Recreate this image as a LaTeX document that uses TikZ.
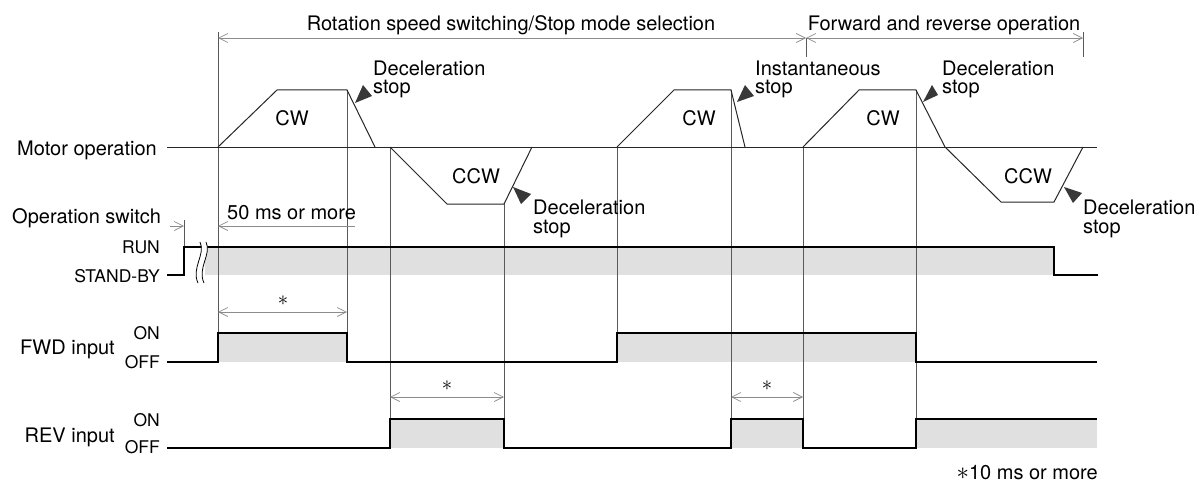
\documentclass[tikz,border=0pt]{standalone}
\usepackage{fontspec}
\setmainfont{TeX Gyre Heros}
\usetikzlibrary{%
  arrows.meta,% open barbs
  calc%
}
\definecolor{tipgray}{gray}{0.22}
\definecolor{guidegray}{gray}{0.35}
\definecolor{dimgray}{gray}{0.55}
\definecolor{shadegray}{gray}{0.88}

\tikzset{
  signal/.style={line width=1.3pt,black},
  profile/.style={line width=1pt,black!85},
  guide/.style={line width=0.7pt,guidegray},
  dimline/.style={line width=0.7pt,dimgray,
    {Straight Barb[length=9pt,width=9pt]}-{Straight Barb[length=9pt,width=9pt]}},
  shade/.style={fill=shadegray,draw=none},
  lbl/.style={inner sep=0pt,font=\fontsize{20}{18.5}\selectfont},
  small/.style={inner sep=0pt,font=\fontsize{17.5}{18}\selectfont},
  star/.style={inner sep=0pt,font=\fontsize{22}{22}\selectfont},
}

\begin{document}
\begin{tikzpicture}[x=1pt,y=-1pt]
\useasboundingbox (0,0) rectangle (1203,487);
\fill[white] (0,0) rectangle (1203,487);

% shaded ON areas
\fill[shade] (205,247) rectangle (1054,275);
\fill[shade] (218,333) rectangle (347,362);
\fill[shade] (617,333) rectangle (916,362);
\fill[shade] (390,419) rectangle (504,448);
\fill[shade] (731,419) rectangle (803,448);
\fill[shade] (916,419) rectangle (1097,448);

% guide lines
\foreach \x/\ya/\yb in {218/32/362, 347/90/362, 390/147/448, 504/204/448,
  617/147/362, 731/90/448, 803/147/448, 916/90/448, 184/220/275,
  806/38/57, 1083/32/57} {
  \draw[guide] (\x,\ya) -- (\x,\yb);
}

% section arrows
\draw[dimline] (218,38) -- (806,38);
\draw[dimline] (806,38) -- (1083,38);
\node[lbl,anchor=base] (tsec1) at (511,31) {Rotation speed switching/Stop mode selection};
\node[lbl,anchor=base] (tsec2) at (944,31) {Forward and reverse operation};

% motor operation
\node[lbl,anchor=base east] (tmotor) at (157,155) {Motor operation};
\draw[profile] (167,147) -- (1097,147);
\draw[profile] (218,147) -- (277,90) -- (347,90) -- (375,147);
\draw[profile] (390,147) -- (447,204) -- (504,204) -- (532,147);
\draw[profile] (617,147) -- (674,90) -- (731,90) -- (745,147);
\draw[profile] (803,147) -- (859,90) -- (916,90) -- (945,147)
  -- (1001,202) -- (1054,202) -- (1083,147);
\node[lbl] (tcw1) at (292,118) {CW};
\node[lbl] (tccw1) at (476,176) {CCW};
\node[lbl] (tcw2) at (699,118) {CW};
\node[lbl] (tcw3) at (883,118) {CW};
\node[lbl] (tccw2) at (1028,176) {CCW};

% stop marks (label anchor = baseline of "stop")
\fill[tipgray] (355,103) -- (363,85) -- (372,96) -- cycle;
\fill[tipgray] (513,187) -- (531,194) -- (521,204) -- cycle;
\fill[tipgray] (737,102) -- (745,85) -- (754,96) -- cycle;
\fill[tipgray] (923,102) -- (932,85) -- (938,95) -- cycle;
\fill[tipgray] (1064,187) -- (1082,193) -- (1073,203) -- cycle;
\node[lbl,anchor=base west,align=left] (tdec1) at (373,94) {Deceleration\\stop};
\node[lbl,anchor=base west,align=left] (tdec2) at (533,233) {Deceleration\\stop};
\node[lbl,anchor=base west,align=left] (tinst) at (755,94) {Instantaneous\\stop};
\node[lbl,anchor=base west,align=left] (tdec3) at (942,94) {Deceleration\\stop};
\node[lbl,anchor=base west,align=left] (tdec4) at (1083,233) {Deceleration\\stop};

% operation switch
\node[lbl,anchor=base west] (topsw) at (12,223) {Operation switch};
\node[lbl,anchor=base west] (t50ms) at (227,219) {50 ms or more};
\draw[line width=0.7pt,dimgray,-{Straight Barb[length=9pt,width=9pt]}] (170,226) -- (184,226);
\draw[line width=0.7pt,dimgray,{Straight Barb[length=9pt,width=9pt]}-] (218,226) -- (355,226);
\node[small,anchor=base east] (trun) at (160,253) {RUN};
\node[small,anchor=base east] (tstby) at (160,282) {STAND-BY};
\draw[signal] (167,275) -- (184,275) -- (184,247) -- (1054,247) -- (1054,275) -- (1098,275);
% break mark
\fill[white] (200,242) .. controls (206,254) and (191,268) .. (198,283)
  -- (204,283) .. controls (197,268) and (212,254) .. (206,242) -- cycle;
\draw[line width=0.8pt] (200,242) .. controls (206,254) and (191,268) .. (198,283);
\draw[line width=0.8pt] (206,242) .. controls (212,254) and (197,268) .. (204,283);

% FWD input
\node[lbl,anchor=base east] (tfwd) at (115,354) {FWD input};
\node[small,anchor=base east] (tfwdon) at (160,339) {ON};
\node[small,anchor=base east] (tfwdoff) at (160,368) {OFF};
\draw[signal] (167,362) -- (218,362) -- (218,333) -- (347,333) -- (347,362)
  -- (617,362) -- (617,333) -- (916,333) -- (916,362) -- (1097,362);
\draw[dimline] (218,312) -- (347,312);
\node[star] (tst1) at (283,301) {$\ast$};

% REV input
\node[lbl,anchor=base east] (trev) at (115,442) {REV input};
\node[small,anchor=base east] (trevon) at (160,426) {ON};
\node[small,anchor=base east] (trevoff) at (160,453) {OFF};
\draw[signal] (167,448) -- (390,448) -- (390,419) -- (504,419) -- (504,448)
  -- (731,448) -- (731,419) -- (803,419) -- (803,448) -- (916,448)
  -- (916,419) -- (1097,419);
\draw[dimline] (390,397) -- (504,397);
\draw[dimline] (731,397) -- (803,397);
\node[star] (tst2) at (447,386) {$\ast$};
\node[star] (tst3) at (767,386) {$\ast$};

\node[lbl,anchor=base east] (tnote) at (1098,479) {{\fontsize{24}{24}\selectfont$\ast$}10 ms or more};

\end{tikzpicture}
\end{document}
